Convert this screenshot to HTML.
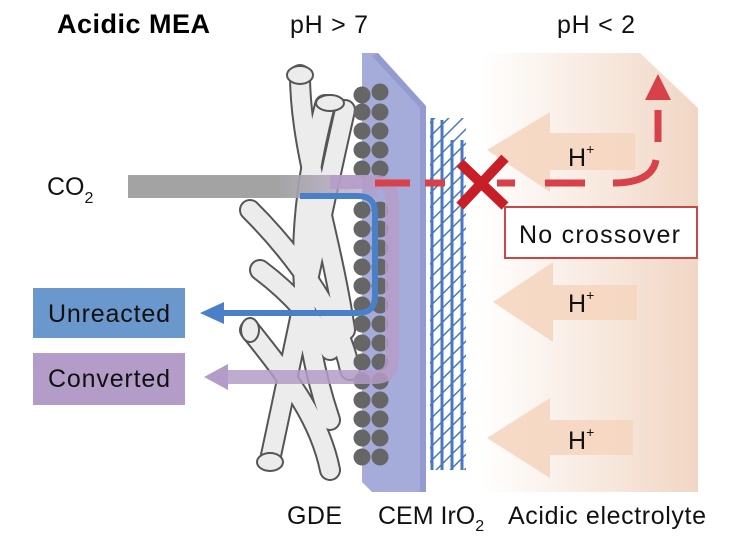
<!DOCTYPE html>
<html><head><meta charset="utf-8"><style>
html,body{margin:0;padding:0;background:#fff;}
svg{display:block;font-family:"Liberation Sans",Arial,sans-serif;}
</style></head><body>
<svg width="733" height="547" viewBox="0 0 733 547" xmlns="http://www.w3.org/2000/svg">
<defs>
<linearGradient id="el" x1="0" x2="1" y1="0" y2="0">
<stop offset="0" stop-color="#ffffff"/><stop offset="0.5" stop-color="#f8ebe2"/><stop offset="1" stop-color="#f1d6c4"/>
</linearGradient>
<linearGradient id="co2" x1="0" x2="1">
<stop offset="0" stop-color="#a3a3a3"/><stop offset="0.6" stop-color="#a3a3a3"/><stop offset="1" stop-color="#b49cc8" stop-opacity="0.6"/>
</linearGradient>
<pattern id="hatch" width="10" height="10" patternUnits="userSpaceOnUse" patternTransform="rotate(45)">
<line x1="0" y1="0" x2="0" y2="10" stroke="#4a78c0" stroke-width="3"/>
</pattern>
</defs>

<polygon points="480,53 640,53 698,108 698,492 480,492" fill="url(#el)"/>
<g fill="#f5d6c0" opacity="0.9">
<polygon points="487,150 550,112 550,133 635,133 635,170 550,170 550,192"/>
<polygon points="493,302 553,262 553,285 637,285 637,320 553,320 553,342"/>
<polygon points="487,438 550,398 550,420 633,420 633,455 550,455 550,478"/>
</g>

<!-- fibers -->
<g fill="none" stroke-linecap="round">
<g stroke="#555" stroke-width="22">
<path d="M300,75 C300,150 330,230 345,330"/>
<path d="M325,105 C300,200 290,300 330,420"/>
<path d="M345,110 C320,220 300,320 270,460"/>
<path d="M250,210 C300,260 340,320 350,370"/>
<path d="M250,330 C290,380 320,420 330,470"/>
<path d="M260,270 C300,300 320,330 330,350"/>
</g>
<g stroke="#ececec" stroke-width="18">
<path d="M300,75 C300,150 330,230 345,330"/>
<path d="M325,105 C300,200 290,300 330,420"/>
<path d="M345,110 C320,220 300,320 270,460"/>
<path d="M250,210 C300,260 340,320 350,370"/>
<path d="M250,330 C290,380 320,420 330,470"/>
<path d="M260,270 C300,300 320,330 330,350"/>
</g>
</g>
<g fill="#ececec" stroke="#555" stroke-width="2">
<ellipse cx="300" cy="75" rx="13" ry="9"/>
<ellipse cx="330" cy="103" rx="14" ry="8"/>
<ellipse cx="270" cy="462" rx="13" ry="9"/>
<ellipse cx="250" cy="330" rx="9" ry="12"/>
</g>

<!-- CEM plate -->
<polygon points="362,53 378,53 426,106 426,492 372,492 362,482" fill="#9ba3d6" opacity="0.9"/>
<polygon points="378,53 426,106 426,492 420,492 420,108 372,56" fill="#8890cc" opacity="0.6"/>

<!-- particles -->
<g fill="#666">
<circle cx="362" cy="95" r="8.5"/><circle cx="380" cy="92" r="8.5"/>
<circle cx="362" cy="112" r="8.5"/><circle cx="380" cy="112" r="8.5"/>
<circle cx="362" cy="131" r="8.5"/><circle cx="380" cy="131" r="8.5"/>
<circle cx="362" cy="150" r="8.5"/><circle cx="380" cy="150" r="8.5"/>
<circle cx="362" cy="169" r="8.5"/><circle cx="380" cy="169" r="8.5"/>
<circle cx="362" cy="210" r="8.5"/><circle cx="380" cy="210" r="8.5"/>
<circle cx="362" cy="229" r="8.5"/><circle cx="380" cy="229" r="8.5"/>
<circle cx="362" cy="248" r="8.5"/><circle cx="380" cy="248" r="8.5"/>
<circle cx="362" cy="267" r="8.5"/><circle cx="380" cy="267" r="8.5"/>
<circle cx="362" cy="286" r="8.5"/><circle cx="380" cy="286" r="8.5"/>
<circle cx="362" cy="305" r="8.5"/><circle cx="380" cy="305" r="8.5"/>
<circle cx="362" cy="324" r="8.5"/><circle cx="380" cy="324" r="8.5"/>
<circle cx="362" cy="343" r="8.5"/><circle cx="380" cy="343" r="8.5"/>
<circle cx="362" cy="362" r="8.5"/><circle cx="380" cy="362" r="8.5"/>
<circle cx="362" cy="381" r="8.5"/><circle cx="380" cy="381" r="8.5"/>
<circle cx="362" cy="400" r="8.5"/><circle cx="380" cy="400" r="8.5"/>
<circle cx="362" cy="419" r="8.5"/><circle cx="380" cy="419" r="8.5"/>
<circle cx="362" cy="438" r="8.5"/><circle cx="380" cy="438" r="8.5"/>
<circle cx="362" cy="457" r="8.5"/><circle cx="380" cy="457" r="8.5"/>
</g>

<!-- IrO2 -->
<rect x="430" y="118" width="36" height="352" fill="url(#hatch)"/>
<g stroke="#4a78c0" stroke-width="3">
<line x1="432" y1="118" x2="432" y2="470"/><line x1="442" y1="120" x2="442" y2="470"/>
<line x1="452" y1="140" x2="452" y2="470"/><line x1="462" y1="140" x2="462" y2="470"/>
</g>

<rect x="128" y="175" width="250" height="23" fill="url(#co2)"/>

<path d="M330,182 L375,182 Q392,182 392,200 L392,360 Q392,377 375,377 L225,377" fill="none" stroke="#b49cc8" stroke-width="14" opacity="0.85"/>
<polygon points="204,377 228,364 228,390" fill="#b49cc8"/>
<path d="M300,196 L358,196 Q375,196 375,213 L375,296 Q375,313 358,313 L222,313" fill="none" stroke="#4a80c8" stroke-width="6"/>
<polygon points="200,313 224,302 224,324" fill="#4a80c8"/>

<g stroke="#d8404a" stroke-width="7" fill="none">
<path d="M375,183 L410,183"/><path d="M425,183 L445,183"/>
<path d="M497,183 L515,183"/><path d="M545,183 L585,183"/>
<path d="M613,183 Q652,183 656,160"/><path d="M658,142 L658,110"/>
</g>
<polygon points="658,74 645,100 671,100" fill="#d8404a"/>
<g stroke="#c81e28" stroke-width="10">
<line x1="460" y1="163" x2="505" y2="206"/><line x1="505" y1="158" x2="460" y2="206"/>
</g>

<rect x="505" y="207" width="192" height="51" fill="#fff" stroke="#c84848" stroke-width="2"/>
<text x="519" y="243" font-size="25" fill="#111" textLength="161">No crossover</text>

<g font-size="25" fill="#111">
<text x="568" y="166">H<tspan font-size="14" dy="-12">+</tspan></text>
<text x="568" y="312">H<tspan font-size="14" dy="-12">+</tspan></text>
<text x="568" y="449">H<tspan font-size="14" dy="-12">+</tspan></text>
</g>

<rect x="33" y="288" width="152" height="50" fill="#6a97cc"/>
<text x="48" y="322" font-size="25" fill="#111" textLength="122">Unreacted</text>
<rect x="33" y="353" width="152" height="52" fill="#b49cc8"/>
<text x="48" y="387" font-size="25" fill="#111" textLength="122">Converted</text>

<text x="57" y="33" font-size="27" font-weight="bold" fill="#000" textLength="153">Acidic MEA</text>
<text x="290" y="33" font-size="25" fill="#111" textLength="78">pH &gt; 7</text>
<text x="557" y="33" font-size="25" fill="#111" textLength="78">pH &lt; 2</text>
<text x="47" y="195" font-size="25" fill="#111">CO<tspan font-size="16" dy="8">2</tspan></text>
<g font-size="25" fill="#111">
<text x="287" y="524" textLength="55">GDE</text>
<text x="378" y="524">CEM IrO<tspan font-size="16" dy="7">2</tspan></text>
<text x="508" y="524" textLength="198">Acidic electrolyte</text>
</g>
</svg>
</body></html>
